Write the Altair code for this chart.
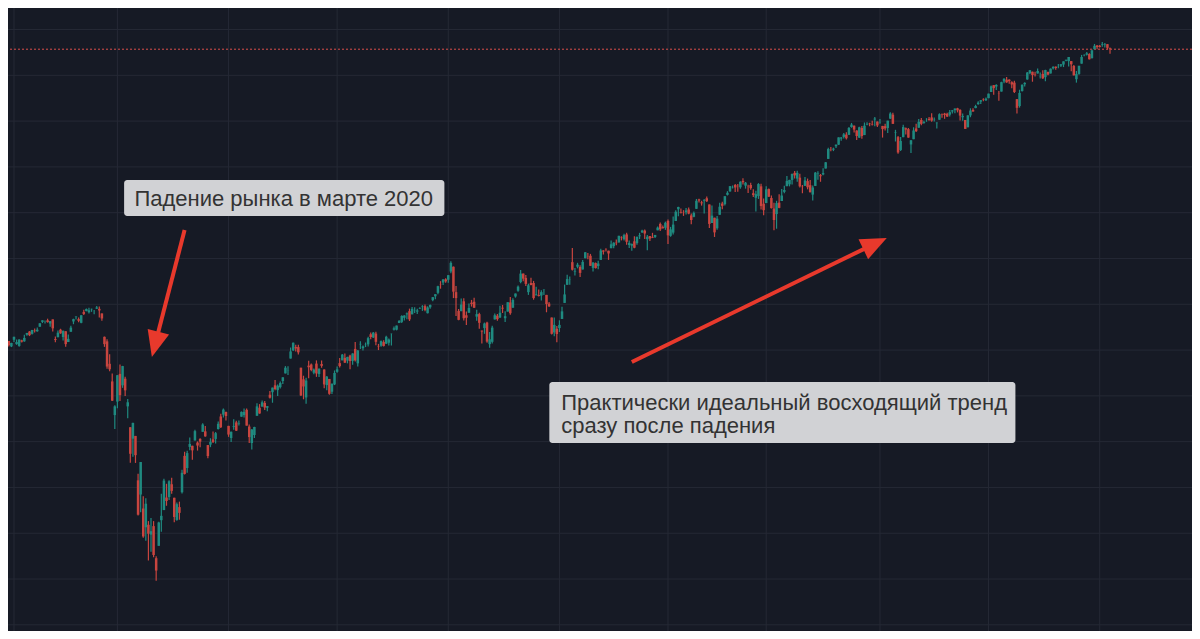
import altair as alt
import pandas as pd

# ---------------- S&P 500 daily candles, 27 Dec 2019 .. 8 Sep 2021 ----------------
opens = (
    [3247, 3240, 3216] +
    [3245,3226,3218,3242,3238,3267,3281,3271,3285,3282,3302,3323,3321,3330,3316,3334,3248,3256,3289,3257,3282] +
    [3235,3280,3325,3344,3335,3319,3366,3370,3365,3378,3370,3381,3380,3360,3258,3238,3140,3063,2916] +
    [2975,3096,3046,3075,2954,2863,2813,2825,2631,2569,2508,2426,2437,2394,2431,2291,2345,2457,2501,2556,2558,2614] +
    [2555,2458,2514,2579,2738,2685,2777,2782,2805,2796,2812,2843,2845,2785,2787,2810,2812,2855,2910,2918,2930] +
    [2869,2816,2865,2884,2879,2909,2916,2939,2866,2794,2829,2913,2948,2953,2969,2948,3005,3016,3046,3025] +
    [3038,3065,3098,3111,3163,3199,3213,3213,3123,3072,2993,3132,3137,3101,3141,3095,3139,3115,3047,3074,3018,3050] +
    [3105,3143,3155,3166,3154,3176,3153,3205,3142,3225,3208,3224,3225,3269,3255,3272,3218,3219,3235,3228,3232,3270] +
    [3289,3289,3318,3323,3341,3356,3370,3356,3372,3368,3380,3388,3392,3361,3387,3418,3435,3450,3486,3495,3509] +
    [3507,3543,3564,3453,3371,3370,3413,3352,3363,3407,3411,3346,3357,3285,3296,3320,3226,3236,3334,3350,3342] +
    [3385,3339,3368,3408,3385,3434,3459,3497,3534,3515,3453,3493,3493,3439,3440,3438,3464,3441,3403,3342,3277,3293] +
    [3296,3336,3406,3485,3508,3584,3543,3564,3563,3552,3601,3611,3612,3559,3580,3567,3594,3635,3639,3634] +
    [3645,3654,3669,3670,3694,3684,3705,3659,3656,3675,3667,3697,3714,3722,3684,3698,3693,3694,3723,3751,3737,3734] +
    [3764,3699,3713,3764,3815,3803,3802,3802,3814,3788,3782,3817,3858,3845,3852,3863,3836,3755,3778] +
    [3732,3791,3840,3837,3878,3893,3910,3921,3917,3911,3939,3918,3915,3921,3885,3865,3873,3915,3839] +
    [3842,3903,3864,3818,3794,3844,3851,3891,3916,3924,3943,3974,3949,3953,3914,3917,3938,3920,3879,3917,3969,3964,3967] +
    [3993,4035,4075,4075,4090,4097,4124,4131,4141,4140,4174,4180,4159,4128,4170,4139,4185,4189,4185,4207,4198] +
    [4192,4179,4178,4170,4211,4228,4150,4130,4074,4130,4169,4165,4098,4121,4168,4171,4205,4192,4201,4210] +
    [4216,4207,4191,4206,4229,4233,4232,4228,4242,4248,4256,4249,4217,4205,4173,4225,4249,4257,4274,4285,4294,4291] +
    [4300,4327,4357,4351,4322,4329,4373,4381,4381,4370,4368,4296,4266,4331,4361,4382,4409,4416,4403,4408,4394] +
    [4406,4392,4415,4408,4430,4438,4436,4442,4447,4464,4462,4462,4441,4383,4406,4451,4485,4490,4493,4475,4514,4530] +
    [4529,4534,4533,4536,4518]
)
highs = (
    [3248, 3240, 3232] +
    [3258,3246,3247,3245,3267,3275,3283,3288,3294,3299,3317,3330,3329,3337,3327,3334,3259,3285,3293,3285,3282] +
    [3268,3306,3337,3348,3342,3352,3376,3381,3385,3381,3375,3393,3390,3360,3259,3247,3182,3098,2959] +
    [3091,3137,3131,3084,2986,2863,2883,2825,2660,2711,2562,2553,2453,2466,2453,2300,2450,2572,2638,2616,2631,2642] +
    [2555,2534,2538,2677,2756,2760,2818,2782,2852,2801,2815,2880,2868,2785,2815,2844,2842,2888,2922,2945,2931] +
    [2869,2844,2898,2891,2892,2932,2945,2945,2875,2855,2865,2968,2964,2980,2978,2956,3021,3036,3069,3050] +
    [3063,3081,3130,3129,3211,3233,3223,3223,3123,3088,3079,3153,3141,3120,3155,3121,3154,3116,3087,3074,3054,3111] +
    [3128,3165,3183,3185,3171,3180,3186,3235,3200,3238,3220,3233,3258,3277,3279,3280,3227,3242,3243,3263,3251,3272] +
    [3303,3307,3330,3352,3352,3364,3381,3388,3387,3380,3387,3396,3399,3391,3399,3432,3444,3481,3501,3510,3514] +
    [3528,3588,3565,3480,3379,3425,3426,3368,3403,3419,3428,3376,3363,3285,3320,3324,3279,3306,3360,3357,3394] +
    [3397,3370,3409,3432,3426,3447,3482,3550,3534,3528,3490,3516,3502,3477,3465,3461,3466,3441,3410,3342,3342,3305] +
    [3330,3389,3486,3529,3521,3646,3558,3581,3570,3593,3628,3624,3620,3585,3582,3590,3642,3636,3645,3634] +
    [3678,3671,3683,3699,3697,3708,3712,3678,3665,3697,3695,3712,3725,3727,3703,3698,3712,3703,3740,3757,3744,3761] +
    [3770,3738,3783,3811,3826,3818,3811,3820,3823,3796,3805,3860,3861,3852,3860,3871,3836,3831,3778] +
    [3785,3843,3848,3872,3894,3916,3919,3925,3925,3937,3950,3934,3922,3931,3902,3896,3929,3926,3862] +
    [3915,3906,3875,3843,3852,3881,3904,3918,3960,3944,3971,3982,3983,3970,3921,3956,3949,3943,3919,3978,3981,3969,3994] +
    [4021,4084,4087,4084,4098,4129,4131,4148,4151,4174,4192,4181,4160,4175,4179,4194,4195,4193,4202,4218,4198] +
    [4209,4179,4188,4202,4239,4237,4162,4135,4131,4184,4172,4170,4117,4173,4188,4209,4214,4202,4213,4218] +
    [4234,4216,4195,4234,4233,4236,4237,4249,4249,4255,4258,4252,4233,4205,4226,4256,4256,4271,4287,4292,4300,4303] +
    [4320,4355,4357,4361,4331,4372,4387,4393,4383,4374,4376,4296,4337,4360,4370,4415,4423,4416,4416,4430,4412] +
    [4422,4424,4416,4430,4440,4439,4449,4449,4461,4468,4480,4462,4445,4419,4441,4489,4492,4502,4496,4513,4537,4532] +
    [4532,4545,4541,4536,4521]
)
lows = (
    [3235, 3216, 3213] +
    [3235,3223,3215,3233,3236,3263,3261,3268,3277,3280,3302,3318,3316,3320,3302,3281,3234,3256,3271,3242,3214] +
    [3235,3280,3313,3333,3322,3317,3353,3369,3360,3367,3356,3379,3342,3328,3214,3118,3108,2977,2855] +
    [2946,2977,3035,2999,2902,2708,2734,2707,2478,2492,2380,2367,2281,2319,2295,2192,2345,2407,2501,2520,2545,2572] +
    [2448,2455,2459,2574,2657,2664,2762,2721,2805,2761,2775,2843,2821,2727,2776,2794,2792,2853,2860,2905,2892] +
    [2821,2798,2852,2846,2871,2909,2906,2870,2794,2766,2816,2913,2922,2953,2938,2933,2988,2970,3024,2999] +
    [3032,3052,3098,3091,3163,3196,3194,3181,2999,2985,2965,3077,3108,3094,3083,3082,3123,3033,3024,3005,3008,3047] +
    [3101,3124,3155,3143,3142,3116,3136,3150,3128,3205,3198,3213,3216,3247,3253,3221,3200,3215,3216,3227,3220,3220] +
    [3285,3286,3318,3318,3329,3335,3327,3356,3362,3357,3379,3371,3370,3360,3380,3413,3422,3444,3468,3484,3494] +
    [3494,3535,3427,3349,3330,3370,3329,3310,3363,3390,3384,3328,3293,3229,3271,3232,3210,3229,3333,3328,3340] +
    [3362,3323,3368,3354,3385,3429,3455,3492,3501,3480,3441,3483,3420,3439,3434,3416,3441,3365,3388,3268,3260,3234] +
    [3279,3336,3406,3485,3485,3547,3526,3557,3519,3552,3601,3597,3568,3543,3556,3553,3594,3617,3630,3594] +
    [3645,3645,3658,3670,3679,3678,3660,3646,3634,3645,3660,3685,3711,3685,3636,3676,3689,3689,3723,3720,3731,3725] +
    [3663,3695,3705,3764,3784,3796,3786,3792,3793,3750,3780,3816,3845,3831,3797,3847,3733,3755,3694] +
    [3726,3791,3815,3831,3875,3892,3906,3890,3891,3905,3923,3905,3886,3900,3868,3805,3860,3814,3789] +
    [3842,3868,3818,3723,3730,3819,3851,3885,3916,3915,3923,3949,3935,3910,3885,3917,3902,3889,3853,3917,3944,3935,3964] +
    [3993,4035,4068,4069,4082,4096,4114,4124,4120,4140,4171,4150,4118,4126,4123,4139,4182,4177,4181,4177,4174] +
    [4188,4128,4159,4148,4209,4188,4111,4057,4069,4130,4142,4127,4061,4121,4152,4171,4182,4188,4197,4203] +
    [4197,4198,4168,4206,4215,4210,4218,4220,4233,4234,4238,4203,4202,4165,4173,4217,4241,4256,4271,4275,4287,4288] +
    [4300,4327,4315,4336,4289,4329,4365,4368,4363,4344,4323,4233,4259,4329,4351,4381,4405,4372,4395,4408,4386] +
    [4384,4374,4400,4408,4425,4424,4431,4436,4436,4461,4438,4418,4399,4368,4402,4451,4483,4486,4469,4473,4514,4514] +
    [4522,4525,4522,4513,4494]
)
closes = (
    [3240, 3221, 3231] +
    [3258,3235,3246,3237,3253,3275,3265,3288,3283,3289,3317,3330,3321,3322,3326,3295,3244,3276,3273,3284,3226] +
    [3249,3298,3335,3346,3328,3352,3358,3379,3374,3380,3370,3386,3373,3338,3226,3128,3116,2979,2954] +
    [3090,3003,3130,3024,2972,2747,2882,2741,2481,2711,2386,2529,2398,2409,2305,2237,2447,2476,2630,2541,2627,2585] +
    [2471,2527,2489,2664,2659,2750,2790,2762,2846,2783,2800,2875,2823,2737,2799,2798,2837,2878,2863,2940,2912] +
    [2831,2843,2868,2848,2881,2930,2930,2870,2820,2853,2864,2954,2923,2972,2949,2955,2992,3036,3030,3044] +
    [3056,3081,3123,3112,3194,3232,3207,3190,3002,3041,3067,3125,3113,3115,3098,3118,3131,3050,3084,3009,3053,3100] +
    [3116,3130,3180,3145,3170,3152,3185,3155,3198,3227,3216,3225,3252,3257,3276,3236,3216,3239,3218,3258,3246,3271] +
    [3295,3307,3328,3349,3351,3360,3334,3380,3373,3373,3382,3390,3375,3386,3397,3431,3444,3479,3485,3508,3500] +
    [3527,3581,3455,3427,3332,3399,3339,3341,3384,3401,3385,3357,3319,3281,3316,3237,3247,3298,3352,3335,3363] +
    [3381,3348,3409,3361,3419,3447,3477,3534,3512,3489,3483,3484,3427,3443,3436,3453,3465,3401,3391,3271,3310,3270] +
    [3310,3369,3443,3510,3509,3551,3546,3573,3537,3585,3627,3610,3568,3582,3558,3578,3635,3630,3638,3622] +
    [3662,3669,3667,3699,3692,3702,3673,3668,3663,3647,3695,3701,3722,3709,3695,3687,3690,3703,3735,3727,3732,3756] +
    [3701,3727,3748,3804,3825,3800,3801,3810,3796,3768,3799,3852,3853,3841,3855,3850,3751,3787,3714] +
    [3774,3826,3830,3872,3887,3916,3911,3910,3916,3935,3933,3931,3914,3907,3877,3881,3925,3829,3811] +
    [3902,3870,3820,3768,3842,3821,3875,3899,3939,3943,3969,3963,3974,3915,3913,3941,3911,3889,3910,3975,3971,3959,3973] +
    [4020,4078,4074,4080,4097,4129,4128,4142,4125,4170,4185,4163,4135,4173,4135,4180,4188,4187,4183,4211,4181] +
    [4193,4165,4168,4202,4233,4188,4152,4063,4113,4174,4163,4128,4116,4159,4156,4197,4188,4196,4201,4204] +
    [4202,4208,4193,4230,4227,4227,4220,4239,4247,4255,4247,4224,4222,4166,4225,4246,4242,4266,4281,4291,4292,4298] +
    [4320,4352,4344,4358,4321,4370,4385,4369,4374,4360,4327,4258,4323,4359,4367,4412,4422,4401,4401,4419,4395] +
    [4387,4423,4403,4429,4437,4432,4437,4448,4461,4468,4480,4448,4400,4406,4442,4480,4486,4496,4470,4509,4529,4523] +
    [4524,4537,4535,4520,4514]
)
assert len(opens) == len(highs) == len(lows) == len(closes)

# grid positions: candle index of every second month start, price levels
grid_x = [3, 43, 86, 128, 171, 214, 256, 294, 338, 380, 423]
grid_y = [2000, 2200, 2400, 2600, 2800, 3000, 3200, 3400, 3600, 3800, 4000, 4200, 4400, 4600]

# annotations (in chart coordinates: candle index / price)
box_x1 = [45.6, 210.1]
box_x2 = [169.5, 390.4]
box_y1 = [3942.8, 3060.7]
box_y2 = [3785.6, 2794.3]
label_text = ["Падение рынка в марте 2020",
              "Практически идеальный восходящий тренд",
              "сразу после падения"]
label_x = [49.6, 214.7, 214.7]
label_y = [3829.3, 2938.4, 2836.7]
arrow_x1 = [69.0, 242.0]
arrow_y1 = [3724.5, 3148.0]
arrow_x2 = [57.6, 336.1]
arrow_y2 = [3224.9, 3665.1]
arrow_angle = [194.5, 64.3]

# ---------------- styles ----------------
BG = "#161a25"
GRID = "#252935"
UP, DOWN = "#26a69a", "#ef5350"
UP_W, DOWN_W = "#1f8a80", "#c8453f"
ARROW = "#e8392c"
BOX = "#d1d2d5"
TXT = "#333333"

df = pd.DataFrame({"k": list(range(len(closes))), "o": opens, "h": highs, "l": lows, "c": closes})
df["dir"] = ["up" if c >= o else "down" for o, c in zip(opens, closes)]

xs = alt.Scale(domain=[2.616, 456.78], nice=False, zero=False)
ys = alt.Scale(domain=[1973, 4694], nice=False, zero=False)

def X(f):
    return alt.X(f, type="quantitative", scale=xs, axis=None)

def Y(f):
    return alt.Y(f, type="quantitative", scale=ys, axis=None)

vgrid = alt.Chart(pd.DataFrame({"g": grid_x})).mark_rule(color=GRID, strokeWidth=1).encode(x=X("g"))
hgrid = alt.Chart(pd.DataFrame({"g": grid_y})).mark_rule(color=GRID, strokeWidth=1).encode(y=Y("g"))

last_line = alt.Chart(pd.DataFrame({"p": [closes[-1]]})).mark_rule(
    color=DOWN, strokeWidth=1, strokeDash=[2, 2], opacity=0.9
).encode(y=Y("p"))

wicks = alt.Chart(df).mark_rule(strokeWidth=1.2, clip=True).encode(
    x=X("k"), y=Y("l"), y2="h",
    color=alt.Color("dir:N", scale=alt.Scale(domain=["up", "down"], range=[UP_W, DOWN_W]), legend=None),
)
bodies = alt.Chart(df).mark_bar(size=2.5, clip=True).encode(
    x=X("k"), y=Y("o"), y2="c",
    color=alt.Color("dir:N", scale=alt.Scale(domain=["up", "down"], range=[UP, DOWN]), legend=None),
)

boxes = alt.Chart(pd.DataFrame({"x1": box_x1, "x2": box_x2, "y1": box_y1, "y2": box_y2})).mark_rect(
    color=BOX, cornerRadius=3
).encode(x=X("x1"), x2="x2", y=Y("y1"), y2="y2")

labels = alt.Chart(pd.DataFrame({"t": label_text, "x": label_x, "y": label_y})).mark_text(
    align="left", baseline="alphabetic", font="Liberation Sans", fontSize=22, color=TXT
).encode(x=X("x"), y=Y("y"), text="t:N")

arrows_df = pd.DataFrame({"x1": arrow_x1, "y1": arrow_y1, "x2": arrow_x2, "y2": arrow_y2, "a": arrow_angle})
shafts = alt.Chart(arrows_df).mark_rule(color=ARROW, strokeWidth=4, strokeCap="butt").encode(
    x=X("x1"), y=Y("y1"), x2="x2", y2="y2"
)
heads = alt.Chart(arrows_df).mark_point(
    shape="M0,-1L0.85,1L-0.85,1Z", filled=True, size=676, color=ARROW, opacity=1, strokeWidth=0
).encode(x=X("x2"), y=Y("y2"), angle=alt.Angle("a:Q", scale=None))

chart = alt.layer(vgrid, hgrid, last_line, wicks, bodies, boxes, labels, shafts, heads).properties(
    width=1184, height=623, padding=0, background=BG,
    autosize=alt.AutoSizeParams(type="none"),
).configure_view(stroke=None)

chart.save("out.html", embed_options={"renderer": "svg", "actions": False})
